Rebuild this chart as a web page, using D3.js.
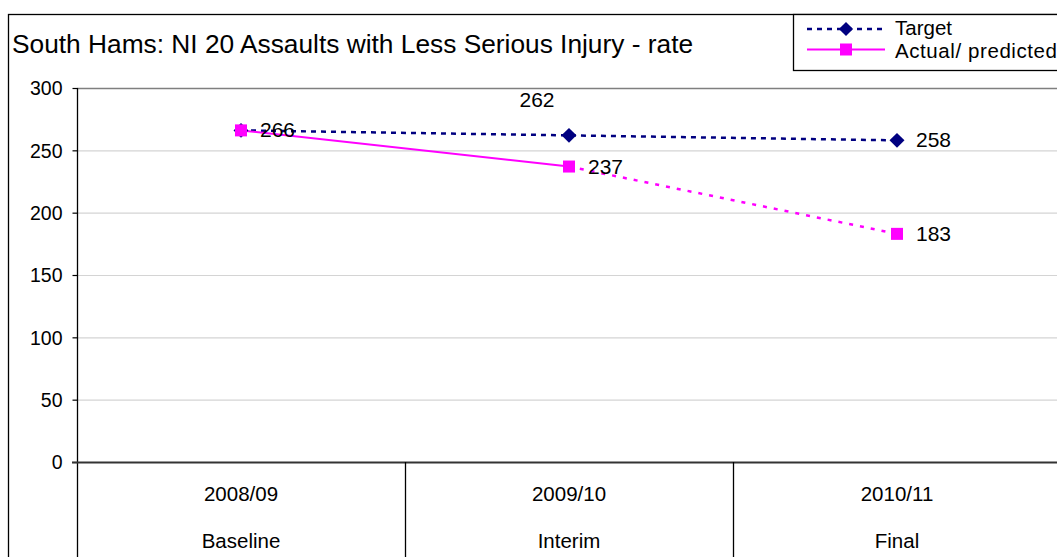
<!DOCTYPE html>
<html><head><meta charset="utf-8">
<script src="https://cdn.jsdelivr.net/npm/d3@7"></script>
<style>body{margin:0;background:#fff;} svg{display:block;font-family:"Liberation Sans",Arial,sans-serif;}</style>
</head><body><svg id="c" width="1057" height="557"></svg>
<script>
const title = "South Hams: NI 20 Assaults with Less Serious Injury - rate";
const years = ["2008/09","2009/10","2010/11"];
const stages = ["Baseline","Interim","Final"];
const yTicks = [0,50,100,150,200,250,300];
const targetValues = [266,262,258];
const actualValues = [266,237,183];
const seriesNames = ["Target","Actual/ predicted"];

const svg = d3.select("#c");
const W=1057,H=557;
svg.append("rect").attr("width",W).attr("height",H).attr("fill","#fff");
// outer chart border
svg.append("rect").attr("x",8.5).attr("y",14.5).attr("width",1200).attr("height",800)
  .attr("fill","none").attr("stroke","#000").attr("stroke-width",1.3);

const x = d3.scaleBand().domain(years).range([77,1061]).padding(0);
const y = d3.scaleLinear().domain([0,300]).range([462,88]);
const cx = d => x(d)+x.bandwidth()/2;

// gridlines
svg.append("g").selectAll("line").data(yTicks.filter(t=>t>0&&t<300)).join("line")
  .attr("x1",77).attr("x2",W).attr("y1",d=>y(d)+0.5).attr("y2",d=>y(d)+0.5)
  .attr("stroke","#d4d4d4").attr("stroke-width",1.2);
svg.append("line").attr("x1",77).attr("x2",W).attr("y1",y(300)+0.5).attr("y2",y(300)+0.5)
  .attr("stroke","#7f7f7f").attr("stroke-width",1.5);

// y axis
const yAxis = d3.axisLeft(y).tickValues(yTicks).tickSize(5).tickPadding(10).tickFormat(d3.format("d"));
const gy = svg.append("g").attr("transform","translate(77.5,0)").call(yAxis);
gy.select(".domain").remove();
gy.selectAll(".tick line").attr("stroke","#000").attr("stroke-width",1.2);
gy.selectAll(".tick text").attr("font-size",19.5).attr("font-family","Liberation Sans, Arial").attr("fill","#000").attr("dy","0.35em");
svg.append("line").attr("x1",77.5).attr("x2",77.5).attr("y1",88).attr("y2",H).attr("stroke","#000").attr("stroke-width",1.3);

// x axis line
svg.append("line").attr("x1",72).attr("x2",W).attr("y1",y(0)+0.5).attr("y2",y(0)+0.5).attr("stroke","#333").attr("stroke-width",2);
// category separators
svg.append("g").selectAll("line").data(years.slice(1)).join("line")
  .attr("x1",d=>x(d)+0.5).attr("x2",d=>x(d)+0.5).attr("y1",y(0)).attr("y2",H)
  .attr("stroke","#000").attr("stroke-width",1.3);
// category labels
svg.append("g").selectAll("text").data(years).join("text")
  .attr("x",d=>cx(d)).attr("y",501).attr("text-anchor","middle").attr("font-size",20.5).text(d=>d);
svg.append("g").selectAll("text").data(stages).join("text")
  .attr("x",(d,i)=>cx(years[i])).attr("y",548).attr("text-anchor","middle").attr("font-size",20.5).text(d=>d);

// Target series
const tData = years.map((c,i)=>({c,v:targetValues[i]}));
const aData = years.map((c,i)=>({c,v:actualValues[i]}));
const line = d3.line().x(d=>cx(d.c)).y(d=>y(d.v));
svg.append("path").datum(tData).attr("d",line).attr("fill","none")
  .attr("stroke","#000080").attr("stroke-width",2.5).attr("stroke-dasharray","5,5");
// Actual: solid to interim, dashed to final
svg.append("path").datum(aData.slice(0,2)).attr("d",line).attr("fill","none")
  .attr("stroke","#ff00ff").attr("stroke-width",2);
svg.append("path").datum(aData.slice(1)).attr("d",line).attr("fill","none")
  .attr("stroke","#ff00ff").attr("stroke-width",2.5).attr("stroke-dasharray","4,7");

svg.append("g").selectAll("path").data(tData).join("path")
  .attr("d",d3.symbol().type(d3.symbolSquare).size(112)).attr("transform",d=>`translate(${cx(d.c)},${y(d.v)}) rotate(45)`)
  .attr("fill","#000080");
svg.append("g").selectAll("rect").data(aData).join("rect")
  .attr("x",d=>cx(d.c)-6).attr("y",d=>y(d.v)-6).attr("width",12).attr("height",12).attr("fill","#ff00ff");

// data labels
const lab = svg.append("g").attr("font-size",21).attr("fill","#000");
lab.append("text").attr("x",cx(years[0])+19).attr("y",y(actualValues[0])+7).text(actualValues[0]);
lab.append("text").attr("x",cx(years[1])-32).attr("y",y(targetValues[1])-28).attr("text-anchor","middle").text(targetValues[1]);
lab.append("text").attr("x",cx(years[2])+19).attr("y",y(targetValues[2])+7).text(targetValues[2]);
lab.append("text").attr("x",cx(years[1])+19).attr("y",y(actualValues[1])+7).text(actualValues[1]);
lab.append("text").attr("x",cx(years[2])+19).attr("y",y(actualValues[2])+7).text(actualValues[2]);

// title
svg.append("text").attr("x",12).attr("y",53).attr("font-size",26.3).text(title);

// legend
const lg = svg.append("g");
lg.append("rect").attr("x",793.5).attr("y",14.5).attr("width",400).attr("height",56)
  .attr("fill","#fff").attr("stroke","#000").attr("stroke-width",1.3);
lg.append("line").attr("x1",807).attr("x2",885).attr("y1",29).attr("y2",29)
  .attr("stroke","#000080").attr("stroke-width",2.5).attr("stroke-dasharray","5,5");
lg.append("path").attr("d",d3.symbol().type(d3.symbolSquare).size(100)).attr("transform","translate(846,29) rotate(45)").attr("fill","#000080");
lg.append("line").attr("x1",807).attr("x2",885).attr("y1",49.5).attr("y2",49.5)
  .attr("stroke","#ff00ff").attr("stroke-width",2);
lg.append("rect").attr("x",840).attr("y",43.5).attr("width",12).attr("height",12).attr("fill","#ff00ff");
lg.append("text").attr("x",895).attr("y",34.5).attr("font-size",20.5).text(seriesNames[0]);
lg.append("text").attr("x",895).attr("y",57.5).attr("font-size",20.5).attr("textLength",162).attr("lengthAdjust","spacing").text(seriesNames[1]);
</script></body></html>
